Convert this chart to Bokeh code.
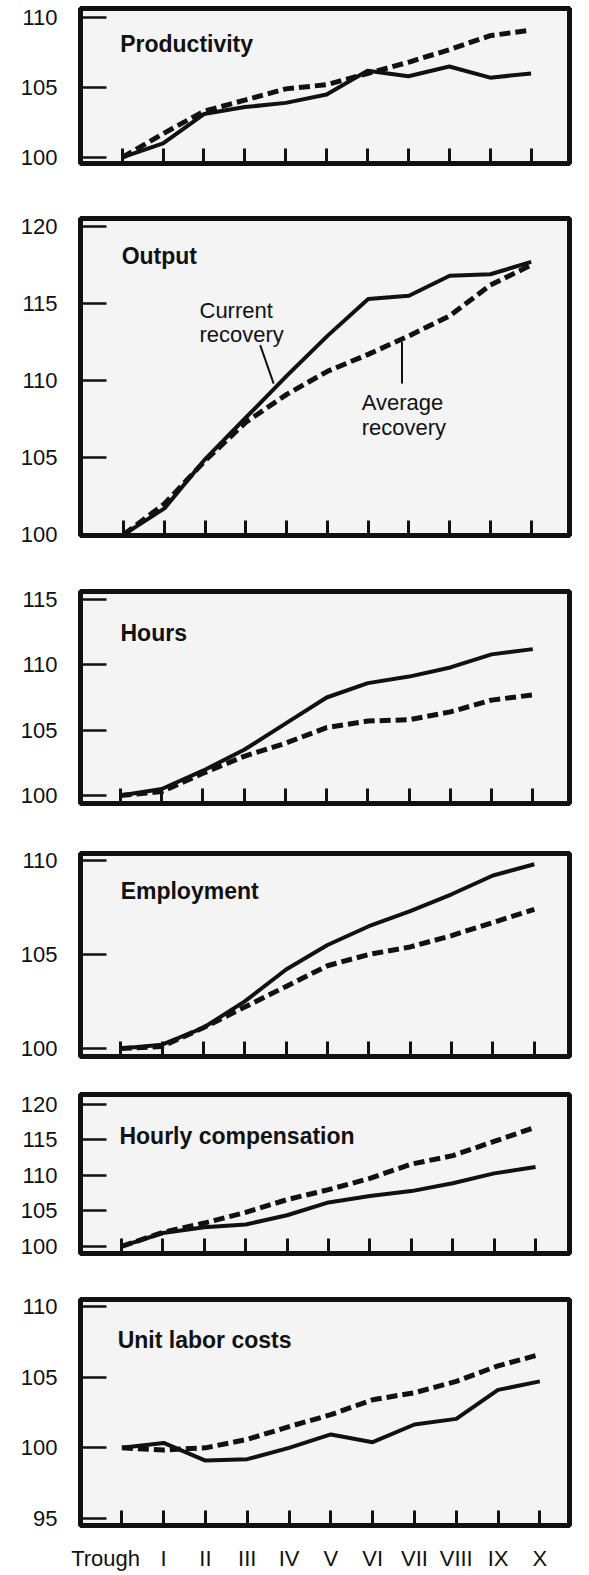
from bokeh.plotting import figure
from bokeh.layouts import column
from bokeh.models import FixedTicker, Range1d, Label, CustomJSTickFormatter
from bokeh.embed import file_html
from bokeh.resources import INLINE

# ---------------- data ----------------
periods = ["Trough", "I", "II", "III", "IV", "V", "VI", "VII", "VIII", "IX", "X"]
quarters = list(range(11))

productivity_current = [100.0, 101.0, 103.1, 103.6, 103.9, 104.5, 106.2, 105.8, 106.5, 105.7, 106.0]
productivity_average = [100.0, 101.7, 103.3, 104.1, 104.9, 105.2, 106.0, 106.8, 107.7, 108.7, 109.1]

output_current = [100.0, 101.7, 104.9, 107.6, 110.3, 112.9, 115.3, 115.5, 116.8, 116.9, 117.7]
output_average = [100.0, 102.0, 104.8, 107.3, 109.1, 110.6, 111.7, 112.9, 114.2, 116.2, 117.5]

hours_current = [100.0, 100.5, 101.9, 103.5, 105.5, 107.5, 108.6, 109.1, 109.8, 110.8, 111.2]
hours_average = [100.0, 100.3, 101.7, 103.0, 104.0, 105.2, 105.7, 105.8, 106.4, 107.3, 107.7]

employment_current = [100.0, 100.2, 101.1, 102.5, 104.2, 105.5, 106.5, 107.3, 108.2, 109.2, 109.8]
employment_average = [100.0, 100.1, 101.1, 102.2, 103.3, 104.4, 105.0, 105.4, 106.0, 106.7, 107.4]

compensation_current = [100.0, 101.9, 102.7, 103.1, 104.4, 106.2, 107.1, 107.8, 108.9, 110.3, 111.2]
compensation_average = [100.0, 102.0, 103.3, 104.8, 106.6, 108.0, 109.6, 111.6, 112.8, 114.8, 116.8]

ulc_current = [100.0, 100.35, 99.1, 99.2, 100.0, 100.95, 100.4, 101.65, 102.05, 104.1, 104.7]
ulc_average = [100.0, 99.85, 100.0, 100.6, 101.5, 102.35, 103.4, 103.9, 104.7, 105.8, 106.6]

titles = ["Productivity", "Output", "Hours", "Employment", "Hourly compensation", "Unit labor costs"]
y_ticks = [
    [100, 105, 110],
    [100, 105, 110, 115, 120],
    [100, 105, 110, 115],
    [100, 105, 110],
    [100, 105, 110, 115, 120],
    [95, 100, 105, 110],
]
series = [
    (productivity_current, productivity_average),
    (output_current, output_average),
    (hours_current, hours_average),
    (employment_current, employment_average),
    (compensation_current, compensation_average),
    (ulc_current, ulc_average),
]

# ---------------- layout / style ----------------
FONT = "Liberation Sans"
INK = "#111111"
FIG_W = 573
# (x_lo, x_hi, y_lo, y_hi, height, border top, bottom, left, right, title x, title y)
panel_layout = [
    (-1.02, 10.94, 99.57, 110.64, 190, 8, 27, 67, 4, -0.05, 108.1),
    (-1.06, 10.94, 99.94, 120.52, 373, 28, 28, 65, 4, -0.05, 118.1),
    (-0.97, 10.89, 99.39, 115.61, 265, 28, 25, 72, 2, 0.0, 112.4),
    (-0.97, 10.85, 99.57, 110.37, 246, 25, 18, 76, 2, 0.0, 108.4),
    (-0.99, 10.82, 99.01, 121.41, 203, 20, 24, 74, 2, -0.05, 115.6),
    (-0.99, 10.71, 94.51, 110.49, 296, 22, 47, 80, 2, -0.1, 107.6),
]
label_pos = [-0.39] + quarters[1:]

figs = []
for i, (title, (cur, avg), ticks, lay) in enumerate(zip(titles, series, y_ticks, panel_layout)):
    xlo, xhi, ylo, yhi, h, bt, bb, bl, br, tx, ty = lay
    last = i == len(titles) - 1
    p = figure(width=FIG_W, height=h, x_range=Range1d(xlo, xhi), y_range=Range1d(ylo, yhi),
               toolbar_location=None, output_backend="svg",
               min_border_top=bt, min_border_bottom=bb, min_border_left=bl, min_border_right=br)
    p.background_fill_color = "#f4f4f4"
    p.border_fill_color = "white"
    p.outline_line_color = INK
    p.outline_line_width = 5
    p.xgrid.visible = False
    p.ygrid.visible = False

    ya = p.yaxis[0]
    ya.ticker = FixedTicker(ticks=ticks)
    ya.axis_line_color = None
    ya.major_tick_in = 26
    ya.major_tick_out = 0
    ya.major_tick_line_width = 2.5
    ya.major_tick_line_color = INK
    ya.minor_tick_line_color = None
    ya.major_label_standoff = 23
    ya.major_label_text_font = FONT
    ya.major_label_text_font_size = "22px"
    ya.major_label_text_color = INK

    xa = p.xaxis[0]
    xa.axis_line_color = None
    xa.major_tick_in = 0
    xa.major_tick_out = 0
    xa.minor_tick_in = 15
    xa.minor_tick_out = 0
    xa.minor_tick_line_width = 3
    xa.minor_tick_line_color = INK
    if last:
        xa.ticker = FixedTicker(ticks=label_pos, minor_ticks=quarters)
        xa.formatter = CustomJSTickFormatter(args=dict(names=periods),
                                             code="return names[Math.round(tick)];")
        xa.major_label_standoff = 20
        xa.major_label_text_font = FONT
        xa.major_label_text_font_size = "22px"
        xa.major_label_text_color = INK
    else:
        xa.ticker = FixedTicker(ticks=[], minor_ticks=quarters)
        xa.major_label_standoff = 0

    p.line(quarters, cur, line_width=4, line_color=INK, line_join="round")
    p.line(quarters, avg, line_width=5, line_color=INK, line_dash="11 5")

    p.add_layout(Label(x=tx, y=ty, text=title, text_font=FONT, text_font_style="bold",
                       text_font_size="23px", text_color=INK, text_baseline="alphabetic",
                       text_align="left"))

    if i == 1:
        for txt, lx, ly in [("Current", 1.86, 114.55), ("recovery", 1.86, 113.0),
                            ("Average", 5.84, 108.57), ("recovery", 5.84, 106.95)]:
            p.add_layout(Label(x=lx, y=ly, text=txt, text_font=FONT, text_font_size="22px",
                               text_color=INK, text_baseline="alphabetic", text_align="left"))
        p.line([3.35, 3.68], [112.3, 109.8], line_width=2, line_color=INK)
        p.line([6.83, 6.83], [112.5, 109.8], line_width=2, line_color=INK)

    figs.append(p)

layout = column(*figs, spacing=0)
open("out.html", "w").write(file_html(layout, INLINE))
